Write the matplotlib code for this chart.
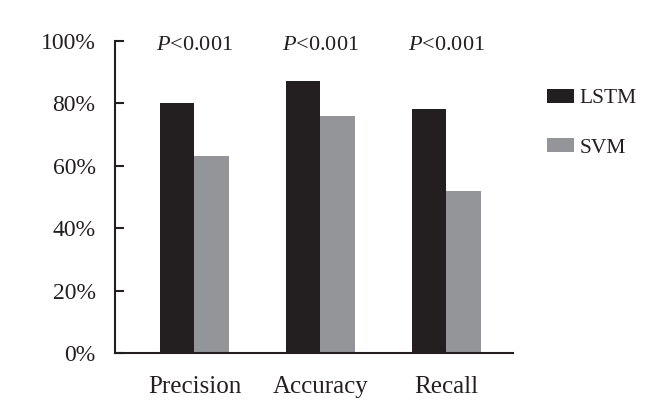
import matplotlib
matplotlib.use('Agg')
import matplotlib.pyplot as plt
import numpy as np

categories = ['Precision', 'Accuracy', 'Recall']
lstm = [80, 87, 78]
svm = [63, 76, 52]
pvalues = ['$P$<0.001', '$P$<0.001', '$P$<0.001']
yticks = [0, 20, 40, 60, 80, 100]

plt.rcParams['font.family'] = 'Liberation Serif'
plt.rcParams['mathtext.fontset'] = 'custom'
plt.rcParams['mathtext.rm'] = 'Liberation Serif'
plt.rcParams['mathtext.it'] = 'Liberation Serif:italic'

fig = plt.figure(figsize=(6.58, 4.12), dpi=100)
ax = fig.add_axes([0.1748, 0.1425, 0.7796 - 0.1748, 0.9013 - 0.1425])

x = np.arange(len(categories))
w = 0.274
ax.bar(x - w / 2, lstm, w, color='#231f20', label='LSTM')
ax.bar(x + w / 2, svm, w, color='#939598', label='SVM')

for xi, p in zip(x, pvalues):
    ax.text(xi, 98.5, p, ha='center', va='center', fontsize=16, color='#231f20')

ax.set_xlim(-0.63, 2.528)
ax.set_ylim(0, 100)
ax.set_yticks(yticks)
ax.set_yticklabels(['%d%%' % v for v in yticks], fontsize=17, color='#231f20')
ax.set_xticks(x)
ax.set_xticklabels(categories, fontsize=18, color='#231f20')
ax.tick_params(axis='y', direction='in', length=6.5, width=1.5, pad=14, color='#231f20')
ax.tick_params(axis='x', length=0, pad=16)
for s in ['top', 'right']:
    ax.spines[s].set_visible(False)
for s in ['left', 'bottom']:
    ax.spines[s].set_linewidth(1.5)
    ax.spines[s].set_color('#231f20')

leg = fig.legend(loc='upper left', bbox_to_anchor=(0.831, 0.784), frameon=False,
                 fontsize=15.5, handlelength=1.25, handleheight=0.6, labelspacing=1.38,
                 handletextpad=0.28, borderpad=0, borderaxespad=0)
for t in leg.get_texts():
    t.set_color('#231f20')

fig.savefig('out.png', dpi=100)
